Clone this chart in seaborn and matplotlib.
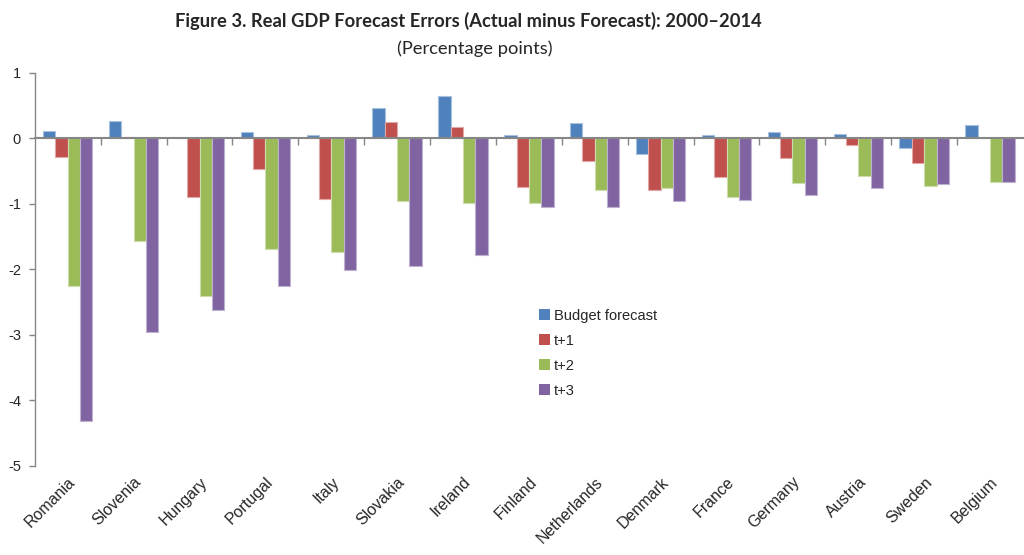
import matplotlib
matplotlib.use("Agg")
import matplotlib.pyplot as plt
import seaborn as sns
import pandas as pd

countries = ["Romania", "Slovenia", "Hungary", "Portugal", "Italy", "Slovakia",
             "Ireland", "Finland", "Netherlands", "Denmark", "France", "Germany",
             "Austria", "Sweden", "Belgium"]
series = ["Budget forecast", "t+1", "t+2", "t+3"]

budget = [0.12, 0.26, 0.01, 0.10, 0.05, 0.47, 0.65, 0.05, 0.23, -0.23, 0.05, 0.10, 0.07, -0.14, 0.21]
t1 = [-0.28, 0.02, -0.90, -0.47, -0.92, 0.25, 0.17, -0.74, -0.34, -0.78, -0.59, -0.30, -0.10, -0.37, 0.01]
t2 = [-2.25, -1.57, -2.41, -1.68, -1.74, -0.95, -0.99, -0.99, -0.78, -0.76, -0.89, -0.68, -0.58, -0.72, -0.66]
t3 = [-4.31, -2.96, -2.62, -2.25, -2.01, -1.94, -1.78, -1.05, -1.05, -0.96, -0.94, -0.87, -0.76, -0.70, -0.66]

colors = ["#4F81BD", "#C0504D", "#9BBB59", "#8064A2"]
edges = ["#A7C0DE", "#E0A8A6", "#CDDDAC", "#BFB1D0"]

rows = []
for name, vals in zip(series, [budget, t1, t2, t3]):
    for c, v in zip(countries, vals):
        rows.append({"country": c, "series": name, "value": v})
df = pd.DataFrame(rows)

sns.set_style("white")
plt.rcParams["font.family"] = ["Liberation Sans", "DejaVu Sans"]

fig = plt.figure(figsize=(10.24, 5.55), dpi=100)
ax = fig.add_axes([0.034, 0.1604, 0.965, 0.7081])

sns.barplot(data=df, x="country", y="value", hue="series", order=countries,
            hue_order=series, palette=colors, width=0.75, saturation=1,
            ax=ax, legend=True)

for i, cont in enumerate(ax.containers):
    for bar in cont:
        bar.set_edgecolor(edges[i])
        bar.set_linewidth(0.8)

ax.set_xlim(-0.5, len(countries) - 0.5)
ax.set_ylim(-5, 1)
ax.set_yticks([1, 0, -1, -2, -3, -4, -5])
ax.set_yticklabels(["1", "0", "-1", "-2", "-3", "-4", "-5"])
ax.set_xlabel("")
ax.set_ylabel("")

for s in ["top", "right"]:
    ax.spines[s].set_visible(False)
ax.spines["left"].set_color("#868686")
ax.spines["left"].set_linewidth(1.0)

# category axis runs along zero, with separator ticks between groups
ax.spines["bottom"].set_position(("data", 0))
ax.spines["bottom"].set_color("#868686")
ax.spines["bottom"].set_linewidth(1.5)
ax.set_xticks([i + 0.5 for i in range(len(countries) - 1)], labels=[])
ax.tick_params(axis="x", which="major", direction="out", length=5, width=1,
               color="#868686", bottom=True)

ax.tick_params(axis="y", which="major", direction="out", length=4, width=1,
               color="#868686", labelsize=10.5, pad=6, left=True)

# country names along the bottom edge
names_axis = ax.secondary_xaxis("bottom")
names_axis.spines["bottom"].set_visible(False)
names_axis.set_xticks(range(len(countries)), labels=countries)
names_axis.tick_params(axis="x", length=0, labelsize=11.5, pad=6)
plt.setp(names_axis.get_xticklabels(), rotation=45, ha="right",
         rotation_mode="anchor")

leg = ax.legend(loc="upper left", bbox_to_anchor=(0.504, 0.415), frameon=False,
                fontsize=10.5, handlelength=0.75, handleheight=0.75,
                handletextpad=0.3, labelspacing=0.75, borderaxespad=0)
for h in leg.legend_handles:
    h.set_edgecolor("none")

fig.text(0.457, 0.962, "Figure 3. Real GDP Forecast Errors (Actual minus Forecast): 2000\u20132014",
         ha="center", va="center", fontsize=13.2, fontweight="bold",
         family=["Lato", "DejaVu Sans"])
fig.text(0.464, 0.913, "(Percentage points)", ha="center", va="center",
         fontsize=13.2, family=["Lato", "DejaVu Sans"])

fig.savefig("out.png", dpi=100)
